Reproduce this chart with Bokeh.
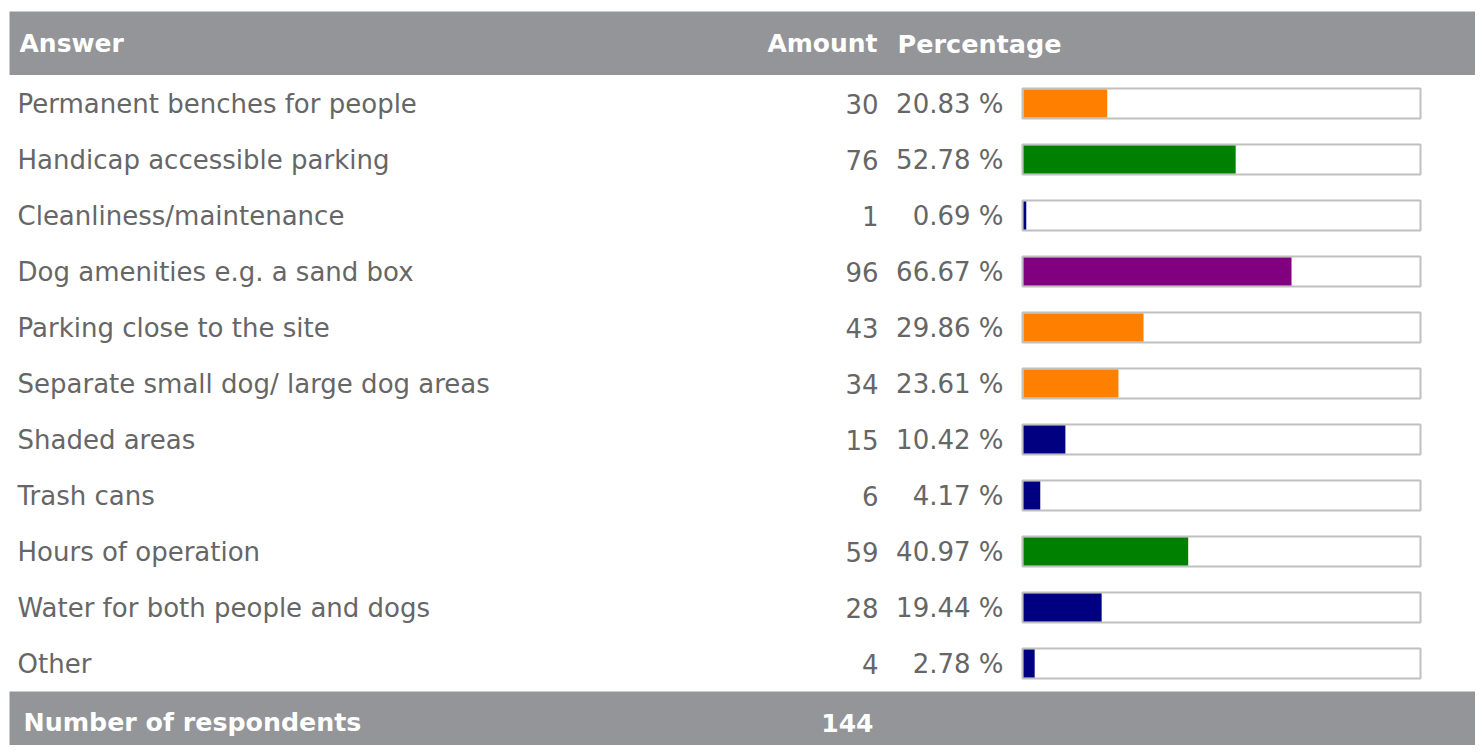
from bokeh.plotting import figure
from bokeh.models import ColumnDataSource, Range1d
from bokeh.core.properties import value
from bokeh.embed import file_html
from bokeh.resources import INLINE

answers = [
    "Permanent benches for people",
    "Handicap accessible parking",
    "Cleanliness/maintenance",
    "Dog amenities e.g. a sand box",
    "Parking close to the site",
    "Separate small dog/ large dog areas",
    "Shaded areas",
    "Trash cans",
    "Hours of operation",
    "Water for both people and dogs",
    "Other",
]
amounts = [30, 76, 1, 96, 43, 34, 15, 6, 59, 28, 4]
percentages = [20.83, 52.78, 0.69, 66.67, 29.86, 23.61, 10.42, 4.17, 40.97, 19.44, 2.78]
bar_colors = ["#ff8000", "#008000", "#000080", "#800080", "#ff8000", "#ff8000",
              "#000080", "#000080", "#008000", "#000080", "#000080"]
respondents = 144
headers = ["Answer", "Amount", "Percentage"]
footer_label = "Number of respondents"

FONT = value("DejaVu Sans")
GRAY = "#939598"
TXT = "#666666"

rows = list(range(len(answers)))
src = ColumnDataSource(dict(
    row=rows,
    answer=answers,
    amount=[str(a) for a in amounts],
    pct=percentages,
    pct_text=[f"{v:.2f} %" for v in percentages],
    color=bar_colors,
    zero=[0] * len(rows),
))

W, H = 1475, 745
p = figure(width=W, height=H, output_backend="svg", toolbar_location=None,
           x_range=Range1d(0, W), y_range=Range1d(H, 0),
           x_axis_location=None, y_axis_location=None, min_border=0)
p.outline_line_color = None
p.grid.visible = False
p.background_fill_color = "white"
p.border_fill_color = "white"

# row coordinate: row i centred at pixel 103 + 56 i
p.extra_y_ranges = {"row": Range1d((H - 103) / 56.0, (0 - 103) / 56.0)}
# percent coordinate: 0 % at pixel 1023, 4.02 px per %
p.extra_x_ranges = {"pct": Range1d((0 - 1023) / 4.02, (W - 1023) / 4.02)}

# header and footer bands
p.quad(left=[9], right=[W + 10], top=[11], bottom=[74.5], fill_color=GRAY, line_color=None)
p.quad(left=[9], right=[W + 10], top=[691], bottom=[H + 10], fill_color=GRAY, line_color=None)

p.text(x=[19], y=[43], text=[headers[0]], text_font=FONT, text_font_size="25px",
       text_font_style="bold", text_color="white", text_baseline="middle", text_align="left")
p.text(x=[877], y=[43], text=[headers[1]], text_font=FONT, text_font_size="25px",
       text_font_style="bold", text_color="white", text_baseline="middle", text_align="right")
p.text(x=[897], y=[43], text=[headers[2]], text_font=FONT, text_font_size="25.5px",
       text_font_style="bold", text_color="white", text_baseline="middle", text_align="left")

p.text(x=[23], y=[722], text=[footer_label], text_font=FONT, text_font_size="25.3px",
       text_font_style="bold", text_color="white", text_baseline="middle", text_align="left")
p.text(x=[873], y=[722], text=[str(respondents)], text_font=FONT, text_font_size="25px",
       text_font_style="bold", text_color="white", text_baseline="middle", text_align="right")

# bar boxes
p.rect(x=1221, y="row", width=398, height=30 / 56.0, source=src,
       fill_color="white", line_color="#c0c0c0", line_width=2, y_range_name="row")
# bars
p.hbar(y="row", left="zero", right="pct", height=28 / 56.0, source=src,
       fill_color="color", line_color=None, x_range_name="pct", y_range_name="row")

# row texts
p.text(x=17, y="row", text="answer", source=src, text_font=FONT, text_font_size="26px",
       text_color=TXT, text_baseline="middle", text_align="left", y_range_name="row")
p.text(x=878, y="row", text="amount", source=src, text_font=FONT, text_font_size="26px",
       text_color=TXT, text_baseline="middle", text_align="right", y_range_name="row")
p.text(x=1003, y="row", text="pct_text", source=src, text_font=FONT, text_font_size="26px",
       text_color=TXT, text_baseline="middle", text_align="right", y_range_name="row")

open("out.html", "w").write(file_html(p, INLINE))
